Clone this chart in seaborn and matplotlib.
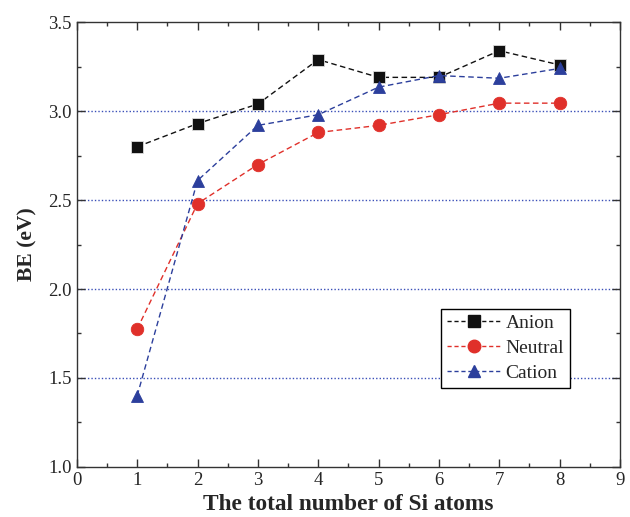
import matplotlib
matplotlib.use("Agg")
import matplotlib.pyplot as plt
import seaborn as sns
import pandas as pd
from matplotlib.ticker import MultipleLocator
from matplotlib.lines import Line2D

n_si = [1, 2, 3, 4, 5, 6, 7, 8]
anion = [2.80, 2.93, 3.04, 3.29, 3.19, 3.19, 3.34, 3.26]
neutral = [1.775, 2.48, 2.70, 2.88, 2.92, 2.98, 3.045, 3.045]
cation = [1.40, 2.61, 2.92, 2.98, 3.135, 3.20, 3.185, 3.24]
states = ["Anion", "Neutral", "Cation"]

df = pd.DataFrame({
    "n": n_si * 3,
    "BE": anion + neutral + cation,
    "state": ["Anion"] * 8 + ["Neutral"] * 8 + ["Cation"] * 8,
})

sns.set_style("ticks")
plt.rcParams["font.family"] = ["Liberation Serif", "DejaVu Serif"]

fig = plt.figure(figsize=(6.3, 5.17), dpi=100)
ax = fig.add_axes([0.122, 0.097, 0.862, 0.860])

# dotted horizontal reference lines
for yv in [1.5, 2.0, 2.5, 3.0]:
    ax.axhline(yv, color="#3a4fb8", lw=1.0, ls=(0, (1, 1.5)), zorder=0)

palette = {"Anion": "#111111", "Neutral": "#e0302a", "Cation": "#2c3f9c"}
markers = {"Anion": "s", "Neutral": "o", "Cation": "^"}
sns.lineplot(data=df, x="n", y="BE", hue="state", style="state",
             palette=palette, markers=markers, dashes=False,
             markersize=9, lw=1.0, ax=ax, legend=False, markeredgewidth=0.6)
for line, st in zip(ax.lines[4:], states):
    line.set_linestyle((0, (4, 2.5)))
    line.set_markeredgecolor("#dddddd" if st == "Anion" else palette[st])

ax.set_xlim(0, 9)
ax.set_ylim(1.0, 3.5)
ax.xaxis.set_major_locator(MultipleLocator(1))
ax.xaxis.set_minor_locator(MultipleLocator(0.5))
ax.yaxis.set_major_locator(MultipleLocator(0.5))
ax.yaxis.set_minor_locator(MultipleLocator(0.25))
ax.tick_params(which="both", direction="in", top=True, right=True, labelsize=13.5,
               color="#333333")
ax.tick_params(which="major", length=6, width=1)
ax.tick_params(which="minor", length=3, width=1)
for s in ax.spines.values():
    s.set_linewidth(1.0)
    s.set_color("#333333")

ax.set_xlabel("The total number of Si atoms", fontsize=16.8, fontweight="bold", labelpad=4)
ax.set_ylabel("BE (eV)", fontsize=15.6, fontweight="bold", labelpad=8)

handles = [Line2D([], [], color=palette[s], ls=(0, (3, 2)), lw=1.0, marker=markers[s],
                  markersize=9, markeredgecolor=palette[s]) for s in states]
leg = ax.legend(handles, states, loc="lower right", bbox_to_anchor=(0.908, 0.1775),
                borderaxespad=0, fontsize=14, frameon=True, fancybox=False,
                edgecolor="black", framealpha=1, handlelength=2.7, handletextpad=0.3,
                borderpad=0.3, labelspacing=0.38)
leg.get_frame().set_linewidth(1.0)

fig.savefig("out.png", dpi=100)
